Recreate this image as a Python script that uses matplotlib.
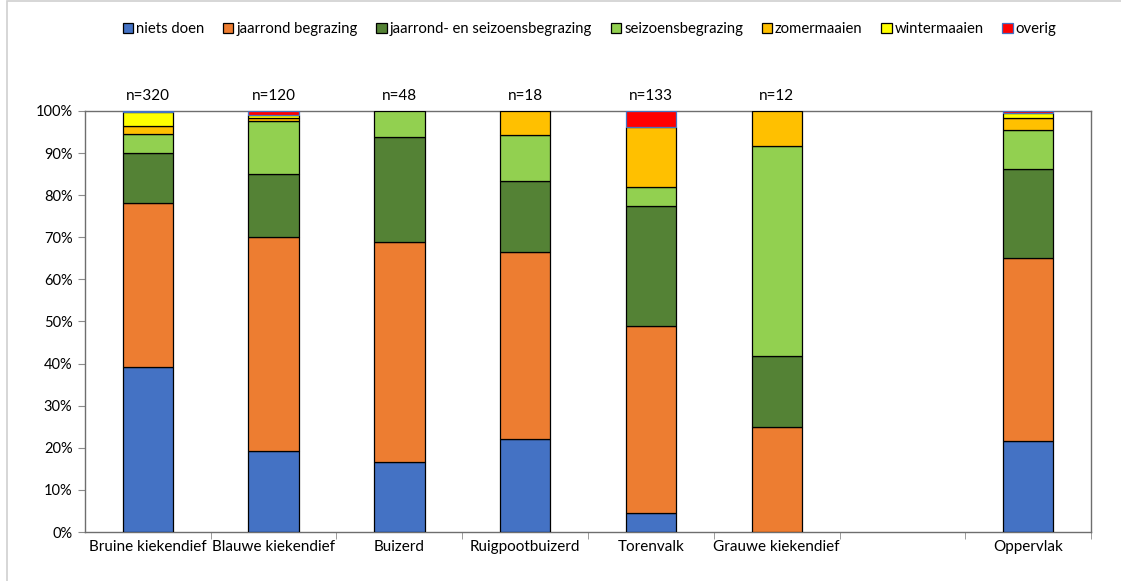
import matplotlib
matplotlib.use('Agg')
import matplotlib.pyplot as plt
from matplotlib.patches import Rectangle
from matplotlib.ticker import FixedLocator, PercentFormatter

plt.rcParams['font.family'] = ['Lato', 'DejaVu Sans']

# categories (the empty one is the gap before "Oppervlak")
categories = ['Bruine kiekendief', 'Blauwe kiekendief', 'Buizerd', 'Ruigpootbuizerd',
              'Torenvalk', 'Grauwe kiekendief', '', 'Oppervlak']
n_counts = [320, 120, 48, 18, 133, 12, None, None]

# share per management type (%)
niets_doen = [39.2, 19.2, 16.7, 22.2, 4.5, 0.0, 0, 21.6]
jaarrond = [38.9, 50.8, 52.1, 44.4, 44.4, 25.0, 0, 43.5]
jaarrond_seizoen = [11.9, 15.0, 25.0, 16.7, 28.6, 16.7, 0, 21.1]
seizoen = [4.5, 12.5, 6.2, 11.1, 4.5, 50.0, 0, 9.3]
zomermaaien = [1.9, 0.8, 0.0, 5.6, 14.3, 8.3, 0, 2.9]
wintermaaien = [3.3, 0.8, 0.0, 0.0, 0.0, 0.0, 0, 1.0]
overig = [0.3, 0.9, 0.0, 0.0, 3.7, 0.0, 0, 0.6]

series = [
    ('niets doen', niets_doen, '#4472C4', 'black'),
    ('jaarrond begrazing', jaarrond, '#ED7D31', 'black'),
    ('jaarrond- en seizoensbegrazing', jaarrond_seizoen, '#548235', 'black'),
    ('seizoensbegrazing', seizoen, '#92D050', 'black'),
    ('zomermaaien', zomermaaien, '#FFC000', 'black'),
    ('wintermaaien', wintermaaien, '#FFFF00', 'black'),
    ('overig', overig, '#FF0000', '#4472C4'),
]

fig = plt.figure(figsize=(11.21, 5.81), dpi=100)
ax = fig.add_axes([0.0758, 0.0843, 0.8975, 0.7247])

x = list(range(len(categories)))
bottom = [0.0] * len(categories)
for label, vals, color, edge in series:
    lw = [0.9 if v > 0 else 0 for v in vals]
    ax.bar(x, vals, width=0.4, bottom=bottom, color=color, edgecolor=edge,
           linewidth=lw, label=label, zorder=3)
    bottom = [b + v for b, v in zip(bottom, vals)]

for xi, n in zip(x, n_counts):
    if n is not None:
        ax.text(xi, 102, f'n={n}', ha='center', va='bottom', fontsize=11)

ax.set_xlim(-0.5, len(categories) - 0.5)
ax.set_ylim(0, 100)
ax.yaxis.set_major_locator(FixedLocator(range(0, 101, 10)))
ax.yaxis.set_major_formatter(PercentFormatter(decimals=0))
ax.set_xticks(x)
ax.set_xticklabels(categories)
ax.xaxis.set_minor_locator(FixedLocator([i + 0.5 for i in x]))
ax.tick_params(axis='x', which='major', length=0, labelsize=11, pad=6)
ax.tick_params(axis='x', which='minor', length=5, color='#8c8c8c', direction='out')
ax.tick_params(axis='y', length=5, color='#8c8c8c', labelsize=10.5, pad=4)
for s in ax.spines.values():
    s.set_color('#6e6e6e')
    s.set_linewidth(1.0)

leg = fig.legend(loc='upper center', bbox_to_anchor=(0.526, 0.985), ncol=7, frameon=False,
                 fontsize=10.7, handlelength=0.7, handleheight=0.7, handletextpad=0.2,
                 columnspacing=1.25)

# outer chart border
fig.patches.append(Rectangle((0.006, -0.01), 1.1, 1.008, transform=fig.transFigure,
                             fill=False, edgecolor='#d0d0d0', linewidth=1.2))

fig.savefig('out.png', dpi=100)
